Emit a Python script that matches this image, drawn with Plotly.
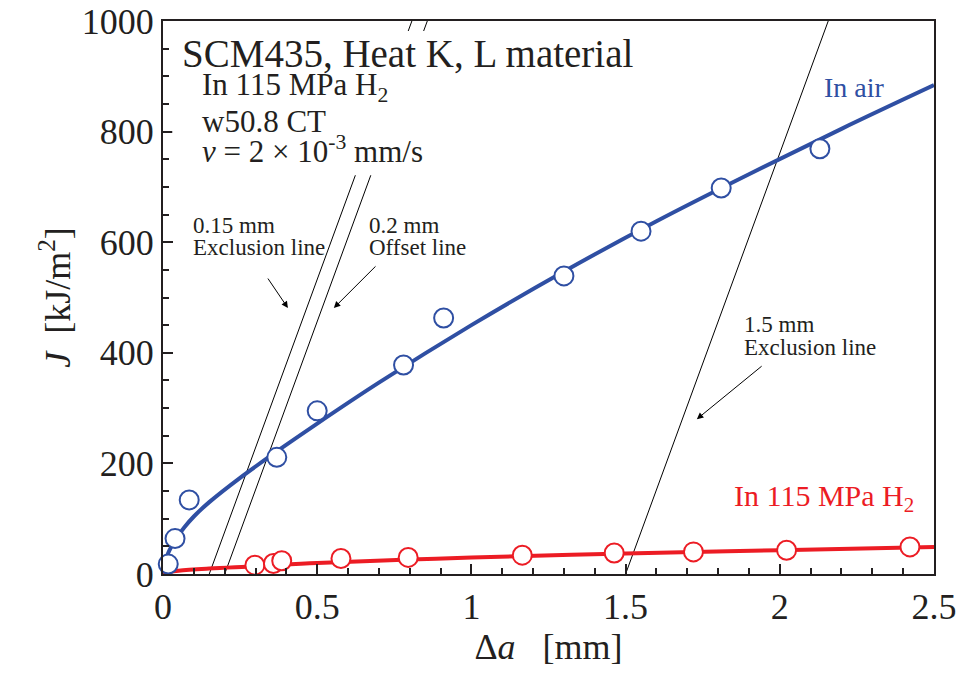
import plotly.graph_objects as go

# ---- data ----
air_x = [0.017, 0.039, 0.085, 0.369, 0.50, 0.78, 0.91, 1.30, 1.55, 1.81, 2.13]
air_J = [18, 64, 134, 211, 295, 378, 463, 539, 620, 698, 769]

h2_x = [0.298, 0.358, 0.385, 0.577, 0.795, 1.165, 1.463, 1.72, 2.022, 2.422]
h2_J = [16, 19, 24, 28, 30, 34, 38, 40, 43, 49]

air_fit_x = [0.0, 0.01, 0.02, 0.04, 0.07, 0.1, 0.15, 0.25, 0.37, 0.5, 0.7, 1.0, 1.3, 1.6, 1.9, 2.2, 2.5]
air_fit_J = [0, 28, 42, 62, 85, 104, 130, 174, 222, 272, 346, 450, 547, 638, 723, 805, 884]

h2_fit_x = [0.0, 0.05, 0.15, 0.3, 0.5, 0.8, 1.0, 1.5, 2.0, 2.5]
h2_fit_J = [2, 6, 10, 14, 20, 26, 30, 37, 43, 49]

line_offsets = [0.15, 0.2, 1.5]   # mm
line_slope = 1522                 # kJ/m^2 per mm
line_top = 1000

x_ticks = [0, 0.5, 1, 1.5, 2, 2.5]
x_tick_text = ["0", "0.5", "1", "1.5", "2", "2.5"]
y_ticks = [0, 200, 400, 600, 800, 1000]

BLUE = "#2F4FA3"
RED = "#EC1C24"
INK = "#231F20"
FONT = "Liberation Serif"

fig = go.Figure()

# construction lines
for off in line_offsets:
    fig.add_trace(go.Scatter(
        x=[off, off + line_top / line_slope], y=[0, line_top],
        mode="lines", line=dict(color="black", width=1),
        showlegend=False, hoverinfo="skip"))

# fits
fig.add_trace(go.Scatter(x=air_fit_x, y=air_fit_J, mode="lines",
                         line=dict(color=BLUE, width=4, shape="spline", smoothing=1.0),
                         showlegend=False))
fig.add_trace(go.Scatter(x=h2_fit_x, y=h2_fit_J, mode="lines",
                         line=dict(color=RED, width=4, shape="spline", smoothing=1.0),
                         showlegend=False))

# data points
fig.add_trace(go.Scatter(x=air_x, y=air_J, mode="markers", cliponaxis=False,
                         marker=dict(symbol="circle", size=19, color="white",
                                     line=dict(color=BLUE, width=2)),
                         showlegend=False))
fig.add_trace(go.Scatter(x=h2_x, y=h2_J, mode="markers", cliponaxis=False,
                         marker=dict(symbol="circle", size=19, color="white",
                                     line=dict(color=RED, width=2)),
                         showlegend=False))

# white backing for the condition text block
fig.add_shape(type="rect", xref="x", yref="y", x0=0.03, x1=1.5, y0=721, y1=982,
              fillcolor="white", line=dict(width=0), layer="above")

def txt(x, y, s, size, color=INK, anchor="left"):
    fig.add_annotation(x=x, y=y, xref="x", yref="y", text=s, showarrow=False,
                       xanchor=anchor, yanchor="middle",
                       font=dict(family=FONT, size=size, color=color))

txt(0.055, 941, "SCM435, Heat K, L material", 39)
txt(0.12, 880, "In 115 MPa H<sub>2</sub>", 31)
txt(0.12, 818, "w50.8 CT", 31)
txt(0.12, 768, "<i>v</i> = 2 × 10<sup>-3</sup> mm/s", 31)

txt(2.138, 879, "In air", 28, BLUE)
txt(1.844, 137, "In 115 MPa H<sub>2</sub>", 30, RED)

txt(0.09, 631, "0.15 mm", 23)
txt(0.09, 590, "Exclusion line", 23)
txt(0.66, 631, "0.2 mm", 23)
txt(0.66, 590, "Offset line", 23)
txt(1.877, 452, "1.5 mm", 23)
txt(1.877, 410, "Exclusion line", 23)

def arrow(xt, yt, xh, yh):
    fig.add_annotation(x=xh, y=yh, ax=xt, ay=yt, xref="x", yref="y",
                       axref="x", ayref="y", text="", showarrow=True,
                       arrowhead=2, arrowsize=1.3, arrowwidth=1, arrowcolor="black")

arrow(0.337, 537, 0.405, 481)
arrow(0.694, 559, 0.554, 481)
arrow(1.946, 378, 1.731, 280)

axis_common = dict(showline=True, linecolor=INK, linewidth=2, mirror=True,
                   ticks="inside", ticklen=10, tickwidth=2, tickcolor=INK,
                   showgrid=False, zeroline=False, automargin=False,
                   tickfont=dict(family=FONT, size=36, color=INK))

fig.update_xaxes(range=[0, 2.5], tickvals=x_ticks, ticktext=x_tick_text,
                 minor=dict(ticks="inside", ticklen=6, tickwidth=1.5, tickcolor=INK, dtick=0.1),
                 title=dict(text="Δ<i>a</i>   [mm]", font=dict(family=FONT, size=36, color=INK),
                            standoff=8),
                 **axis_common)
fig.update_yaxes(range=[0, 1000], tickvals=y_ticks,
                 minor=dict(ticks="inside", ticklen=6, tickwidth=1.5, tickcolor=INK, dtick=50),
                 title=dict(text="<i>J</i>  [kJ/m<sup>2</sup>]", font=dict(family=FONT, size=36, color=INK),
                            standoff=0),
                 **axis_common)

fig.update_layout(width=973, height=674, margin=dict(l=163, r=39, t=21, b=100),
                  plot_bgcolor="white", paper_bgcolor="white", showlegend=False)

fig.write_html("out.html")
